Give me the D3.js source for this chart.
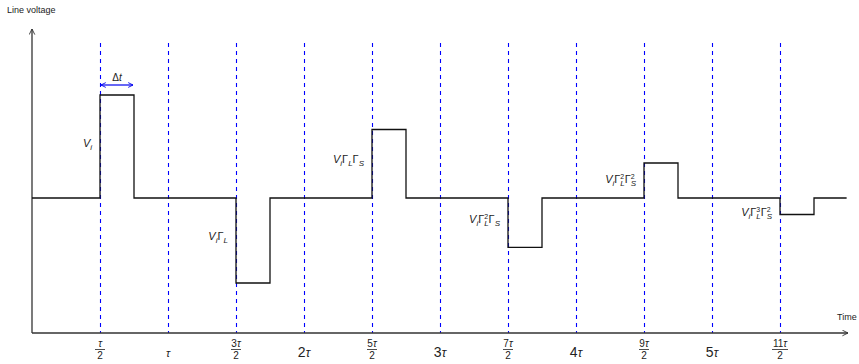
<!DOCTYPE html>
<html>
<head>
<meta charset="utf-8">
<script src="https://cdn.jsdelivr.net/npm/d3@7"></script>
<style>
body { margin: 0; background: #fff; }
text { font-family: "Liberation Sans", Arial, sans-serif; fill: #222; }
</style>
</head>
<body>
<svg id="chart" width="859" height="364"></svg>
<script>
// times in units of tau, voltages relative to V_i
var pulseStart = [0.5, 1.5, 2.5, 3.5, 4.5, 5.5];
var pulseValue = [1, -0.825, 0.665, -0.48, 0.34, -0.16];
var pulseWidth = 0.25;
var endTime = 5.99;

// labels beside each pulse, built from [text, kind, extra]
var pulseLabels = [
  [["V", "it"], ["i", "sub"]],
  [["V", "it"], ["i", "sub"], ["Γ", ""], ["L", "sub"]],
  [["V", "it"], ["i", "sub"], ["Γ", ""], ["L", "sub"], ["Γ", ""], ["S", "sub"]],
  [["V", "it"], ["i", "sub"], ["Γ", ""], ["2", "supsub", "L"], ["Γ", ""], ["S", "sub"]],
  [["V", "it"], ["i", "sub"], ["Γ", ""], ["2", "supsub", "L"], ["Γ", ""], ["2", "supsub", "S"]],
  [["V", "it"], ["i", "sub"], ["Γ", ""], ["3", "supsub", "L"], ["Γ", ""], ["2", "supsub", "S"]]
];
var labelY = [0.5, -0.41, 0.34, -0.24, 0.15, -0.17];

// tick labels at each dashed line
var tickTimes = [0.5, 1, 1.5, 2, 2.5, 3, 3.5, 4, 4.5, 5, 5.5];
var tickNum = ["τ", "", "3τ", "", "5τ", "", "7τ", "", "9τ", "", "11τ"];
var tickDen = ["2", "", "2", "", "2", "", "2", "", "2", "", "2"];
var tickWhole = ["", "τ", "", "2τ", "", "3τ", "", "4τ", "", "5τ", ""];

var svg = d3.select("#chart");

var x = d3.scaleLinear().domain([0, 6]).range([32, 848]);
var y = d3.scaleLinear().domain([0, 1]).range([198, 95]);
var axisY = 333;

// arrow markers
var defs = svg.append("defs");
defs.append("marker").attr("id", "arr").attr("viewBox", "0 0 10 10")
  .attr("refX", 9).attr("refY", 5).attr("markerWidth", 7).attr("markerHeight", 7)
  .attr("orient", "auto-start-reverse").attr("markerUnits", "userSpaceOnUse")
  .append("path").attr("d", "M1,1 L9,5 L1,9").attr("fill", "none").attr("stroke", "#333").attr("stroke-width", 1.3);
defs.append("marker").attr("id", "barr").attr("viewBox", "0 0 10 10")
  .attr("refX", 9).attr("refY", 5).attr("markerWidth", 6).attr("markerHeight", 6)
  .attr("orient", "auto-start-reverse").attr("markerUnits", "userSpaceOnUse")
  .append("path").attr("d", "M1,1 L9,5 L1,9").attr("fill", "none").attr("stroke", "#0000ee").attr("stroke-width", 1.5);

// dashed time marks (half-pixel offset keeps them crisp)
svg.append("g").selectAll("line").data(tickTimes).join("line")
  .attr("x1", d => x(d) + 0.5).attr("x2", d => x(d) + 0.5)
  .attr("y1", 43).attr("y2", axisY)
  .attr("stroke", "#0000ff").attr("stroke-width", 1.1)
  .attr("stroke-dasharray", "4,4");

// axes
svg.append("line").attr("x1", x(0)).attr("x2", x(0)).attr("y1", axisY).attr("y2", 29)
  .attr("stroke", "#333").attr("stroke-width", 1.3).attr("marker-end", "url(#arr)");
svg.append("line").attr("x1", x(0)).attr("x2", x(6)).attr("y1", axisY).attr("y2", axisY)
  .attr("stroke", "#333").attr("stroke-width", 1.3).attr("marker-end", "url(#arr)");

svg.append("text").attr("x", 7).attr("y", 13).attr("font-size", 9).text("Line voltage");
svg.append("text").attr("x", 837).attr("y", 320).attr("font-size", 9).text("Time");

// signal
var pts = [[0, 0]];
pulseStart.forEach(function (s, i) {
  pts.push([s, pulseValue[i]]);
  pts.push([s + pulseWidth, 0]);
});
pts.push([endTime, 0]);
var line = d3.line().x(d => x(d[0])).y(d => y(d[1])).curve(d3.curveStepAfter);
svg.append("path").attr("d", line(pts)).attr("fill", "none")
  .attr("stroke", "#111").attr("stroke-width", 1.3);

// delta t arrow
svg.append("line").attr("x1", x(0.5) + 1).attr("x2", x(0.75) - 1)
  .attr("y1", y(1) - 10).attr("y2", y(1) - 10)
  .attr("stroke", "#0000ee").attr("stroke-width", 1.2)
  .attr("marker-start", "url(#barr)").attr("marker-end", "url(#barr)");
var dt = svg.append("text").attr("x", x(0.625)).attr("y", y(1) - 14)
  .attr("text-anchor", "middle").attr("font-size", 10);
dt.append("tspan").text("Δ");
dt.append("tspan").attr("font-style", "italic").text("t");

// pulse labels
pulseLabels.forEach(function (parts, i) {
  var t = svg.append("text").attr("x", x(pulseStart[i]) - 8).attr("y", y(labelY[i]))
    .attr("text-anchor", "end").attr("font-size", 11)
    .attr("fill", "#333");
  var shift = 0;
  parts.forEach(function (p) {
    if (p[1] === "sub") {
      t.append("tspan").attr("dy", 3 - shift).attr("font-size", 8).attr("font-style", "italic").text(p[0]);
      shift = 3;
    } else if (p[1] === "supsub") {
      t.append("tspan").attr("dy", -4 - shift).attr("font-size", 7).text(p[0]);
      t.append("tspan").attr("dx", -4).attr("dy", 7.5).attr("font-size", 8).attr("font-style", "italic").text(p[2]);
      shift = 3.5;
    } else {
      t.append("tspan").attr("dy", -shift).attr("font-style", p[1] === "it" ? "italic" : "normal").text(p[0]);
      shift = 0;
    }
  });
});

// tick labels
var tg = svg.append("g");
tickTimes.forEach(function (tv, i) {
  var cx = x(tv);
  if (tickWhole[i]) {
    var w = tg.append("text").attr("x", cx).attr("y", 357).attr("text-anchor", "middle").attr("font-size", 14);
    var s = tickWhole[i];
    if (s.length > 1) w.append("tspan").text(s.slice(0, -1));
    w.append("tspan").attr("font-style", "italic").attr("font-size", s.length > 1 ? 12 : 11).text("τ");
  } else {
    var n = tg.append("text").attr("x", cx).attr("y", 347).attr("text-anchor", "middle").attr("font-size", 10);
    n.append("tspan").text(tickNum[i].slice(0, -1));
    n.append("tspan").attr("font-style", "italic").text("τ");
    var bw = tickNum[i].length > 2 ? 8 : 5;
    tg.append("line").attr("x1", cx - bw).attr("x2", cx + bw).attr("y1", 349.5).attr("y2", 349.5)
      .attr("stroke", "#222").attr("stroke-width", 0.8);
    tg.append("text").attr("x", cx).attr("y", 359).attr("text-anchor", "middle").attr("font-size", 10).text(tickDen[i]);
  }
});
</script>
</body>
</html>
